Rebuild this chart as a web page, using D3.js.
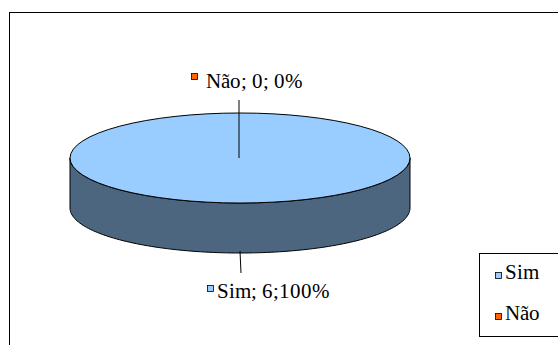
<!DOCTYPE html>
<html>
<head>
<meta charset="utf-8">
<script src="https://cdn.jsdelivr.net/npm/d3@7"></script>
<style>
  @font-face {
    font-family: "ChartSerif";
    src: local("Liberation Serif"), local("LiberationSerif"), local("Tinos"), local("Times New Roman");
  }
  html, body { margin: 0; padding: 0; background: #fff; }
  svg text { font-family: "ChartSerif", "Liberation Serif", "Times New Roman", serif; }
</style>
</head>
<body>
<svg id="chart" width="558" height="345"></svg>
<script>
// Answer categories and their counts
const categories = ["Sim", "Não"];
const counts = [6, 0];
const sliceLabels = ["Sim; 6;100%", "Não; 0; 0%"];
const topColors = ["#99ccff", "#ff6600"];
const sideColors = ["#4d6680", "#993d00"];

function draw() {
  const svg = d3.select("#chart");

  // Outer frame
  svg.append("rect")
    .attr("x", 9.5).attr("y", 12.5)
    .attr("width", 560).attr("height", 345)
    .attr("fill", "#fff").attr("stroke", "#000").attr("stroke-width", 1);

  // Pie geometry (elliptical, tilted)
  const cx = 240, cy = 158, rx = 170, ry = 45, depth = 50;
  const pie = d3.pie().sort(null).startAngle(0).endAngle(2 * Math.PI);
  const arcs = pie(counts);

  // Point on ellipse for a pie angle (0 = top, clockwise)
  const pt = (a, dy = 0) => [cx + rx * Math.sin(a), cy - ry * Math.cos(a) + dy];

  const g = svg.append("g");

  // Side walls: only the front half (angles between PI/2 and 3PI/2) is visible
  arcs.forEach((d, i) => {
    const a0 = Math.max(d.startAngle, Math.PI / 2);
    const a1 = Math.min(d.endAngle, 3 * Math.PI / 2);
    if (a1 <= a0) return;
    const n = 120;
    const top = d3.range(n + 1).map(k => pt(a0 + (a1 - a0) * k / n));
    const bot = d3.range(n + 1).map(k => pt(a1 - (a1 - a0) * k / n, depth));
    g.append("path")
      .attr("d", d3.line()(top.concat(bot)) + "Z")
      .attr("fill", sideColors[i])
      .attr("stroke", "#000").attr("stroke-width", 1).attr("stroke-linejoin", "round");
  });

  // Top faces
  const arcGen = d3.arc().innerRadius(0).outerRadius(rx);
  arcs.forEach((d, i) => {
    if (d.endAngle - d.startAngle <= 0) return;
    g.append("path")
      .attr("transform", `translate(${cx},${cy}) scale(1,${ry / rx})`)
      .attr("d", arcGen(d))
      .attr("fill", topColors[i])
      .attr("stroke", "#000").attr("stroke-width", 1)
      .attr("vector-effect", "non-scaling-stroke");
  });

  // Data labels with leader lines
  const labelPos = [
    { line: [[240, 251], [241, 273]], sq: [207, 285], text: [217, 298] },
    { line: [[239, 100], [239, 158]], sq: [191, 73], text: [206, 88] }
  ];
  arcs.forEach((d, i) => {
    const p = labelPos[i];
    svg.append("path")
      .attr("d", d3.line()(p.line))
      .attr("stroke", "#000").attr("stroke-width", 1).attr("fill", "none");
    svg.append("rect")
      .attr("x", p.sq[0] + 0.5).attr("y", p.sq[1] + 0.5)
      .attr("width", 6).attr("height", 6)
      .attr("fill", topColors[i]).attr("stroke", "#000").attr("stroke-width", 0.8);
    svg.append("text")
      .attr("x", p.text[0]).attr("y", p.text[1])
      .style("font-size", "21px").attr("fill", "#000")
      .text(sliceLabels[i]);
  });

  // Legend
  const legend = svg.append("g");
  legend.append("rect")
    .attr("x", 479.5).attr("y", 253.5)
    .attr("width", 90).attr("height", 83)
    .attr("fill", "#fff").attr("stroke", "#000").attr("stroke-width", 1);
  const ly = d3.scalePoint().domain(categories).range([279, 320]);
  categories.forEach((c, i) => {
    legend.append("rect")
      .attr("x", 495.5).attr("y", ly(c) - 6.5)
      .attr("width", 6).attr("height", 6)
      .attr("fill", topColors[i]).attr("stroke", "#000").attr("stroke-width", 0.8);
    legend.append("text")
      .attr("x", 505).attr("y", ly(c))
      .style("font-size", "21px").attr("fill", "#000")
      .text(c);
  });
}

// Make sure the serif face is loaded before the labels are laid out
if (document.fonts && document.fonts.load) {
  document.fonts.load('21px "ChartSerif"', "Sim Não 0123456789;%")
    .then(draw, draw);
} else {
  draw();
}
</script>
</body>
</html>
